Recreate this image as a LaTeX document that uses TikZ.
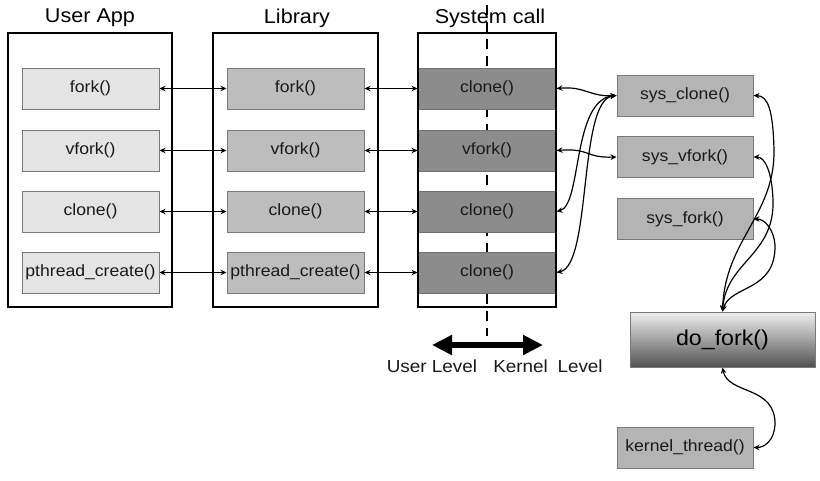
\documentclass[tikz,border=0pt]{standalone}
\usepackage{fontspec}
\setmainfont{Liberation Sans}[FakeStretch=1.08]
\usetikzlibrary{arrows.meta}
\definecolor{ufill}{HTML}{E4E4E4}
\definecolor{lfill}{HTML}{BDBDBD}
\definecolor{sfill}{HTML}{8C8C8C}
\definecolor{kfill}{HTML}{B4B4B4}
\definecolor{bord}{HTML}{7A7A7A}
\definecolor{txt}{HTML}{1A1A1A}
\tikzset{
  fbox/.style={draw=bord, line width=1pt, fill=#1, minimum width=137pt, minimum height=41pt,
    inner sep=0pt, text=txt, font=\fontsize{16.3}{18}\selectfont},
  outer/.style={draw=black, line width=2.4pt},
  title/.style={font=\fontsize{20}{22}\selectfont, text=black, inner sep=0pt},
  arr/.style={line width=1.2pt, {Stealth[length=6pt,width=5.5pt]}-{Stealth[length=6pt,width=5.5pt]}},
  lvl/.style={font=\fontsize{17.5}{19}\selectfont, text=txt, inner sep=0pt}
}
\begin{document}
\begin{tikzpicture}[x=1pt,y=-1pt]
\useasboundingbox[fill=white] (0,0) rectangle (820,480);

% titles
\node[title] (tu) at (90,18) {User App};
\node[title] (tl) at (297,18) {Library};
\node[title] (ts) at (490,18) {System call};

% dashed divider
\coordinate (dtop) at (487,5);
\coordinate (dbot) at (487,336);
\draw[line width=2.6pt, dash pattern=on 10pt off 7pt] (dtop) -- (dbot);

% user app boxes
\node[fbox=ufill] (u1) at (90.5,88.5) {fork()};
\node[fbox=ufill] (u2) at (90.5,150.5) {vfork()};
\node[fbox=ufill] (u3) at (90.5,211.5) {clone()};
\node[fbox=ufill] (u4) at (90.5,272.5) {pthread\_create()};

% library boxes
\node[fbox=lfill] (l1) at (295.5,88.5) {fork()};
\node[fbox=lfill] (l2) at (295.5,150.5) {vfork()};
\node[fbox=lfill] (l3) at (295.5,211.5) {clone()};
\node[fbox=lfill] (l4) at (295.5,272.5) {pthread\_create()};

% system call boxes
\node[fbox=sfill, minimum width=138pt, draw=sfill!80!black] (s1) at (487,88.5) {clone()};
\node[fbox=sfill, minimum width=138pt, draw=sfill!80!black] (s2) at (487,150.5) {vfork()};
\node[fbox=sfill, minimum width=138pt, draw=sfill!80!black] (s3) at (487,211.5) {clone()};
\node[fbox=sfill, minimum width=138pt, draw=sfill!80!black] (s4) at (487,272.5) {clone()};

% outer boxes
\node[outer, minimum width=164pt, minimum height=274pt] (ua) at (90,170) {};
\node[outer, minimum width=165pt, minimum height=274pt] (lib) at (295.5,170) {};
\node[outer, minimum width=138pt, minimum height=274pt] (sc) at (487,170) {};

% kernel functions
\node[fbox=kfill, minimum width=136pt] (kc) at (685,95.5) {sys\_clone()};
\node[fbox=kfill, minimum width=136pt] (kv) at (685,157) {sys\_vfork()};
\node[fbox=kfill, minimum width=136pt] (kf) at (685,219) {sys\_fork()};
\node[draw=bord, line width=1pt, top color=white!94!black, bottom color=black!68,
      minimum width=185pt, minimum height=55pt, inner sep=0pt, text=black,
      font=\fontsize{21.5}{23}\selectfont] (df) at (722.5,339.5) {do\_fork()};
\node[fbox=kfill, minimum width=136pt] (kt) at (685,447.5) {kernel\_thread()};

% user <-> library
\draw[arr] (u1.east) -- (l1.west);
\draw[arr] (u2.east) -- (l2.west);
\draw[arr] (u3.east) -- (l3.west);
\draw[arr] (u4.east) -- (l4.west);
% library <-> system call
\draw[arr] (l1.east) -- (s1.west);
\draw[arr] (l2.east) -- (s2.west);
\draw[arr] (l3.east) -- (s3.west);
\draw[arr] (l4.east) -- (s4.west);

% system call <-> sys_*
\draw[arr] (s1.east) .. controls (585,86) and (590,97) .. (kc.west);
\draw[arr] (s2.east) .. controls (590,148) and (585,158) .. (kv.west);
\draw[arr] (s3.east) .. controls (582,205) and (572,100) .. (kc.west);
\draw[arr] (s4.east) .. controls (592,265) and (578,100) .. (kc.west);

% do_fork <-> sys_*
\draw[arr] (df.north) .. controls (725,240) and (775,215) .. (774,150) .. controls (773,110) and (768,96) .. (kc.east);
\draw[arr] (df.north) .. controls (726,262) and (775,255) .. (773,200) .. controls (772,172) and (765,157) .. (kv.east);
\draw[arr] (df.north) .. controls (730,285) and (776,292) .. (775,245) .. controls (774,230) and (765,219) .. (kf.east);
% do_fork <-> kernel_thread
\draw[arr] (df.south) .. controls (728,395) and (776,385) .. (775,425) .. controls (774,440) and (765,447.5) .. (kt.east);

% user / kernel level
\coordinate (ul) at (432,345);
\coordinate (kl) at (543,345);
\draw[line width=5.5pt, {Triangle[length=20pt,width=19pt]}-{Triangle[length=20pt,width=19pt]}] (ul) -- (kl);
\node[lvl] (lu) at (432,366) {User Level};
\node[lvl] (lk) at (548,366) {Kernel\hspace{0.25em} Level};
\end{tikzpicture}
\end{document}
